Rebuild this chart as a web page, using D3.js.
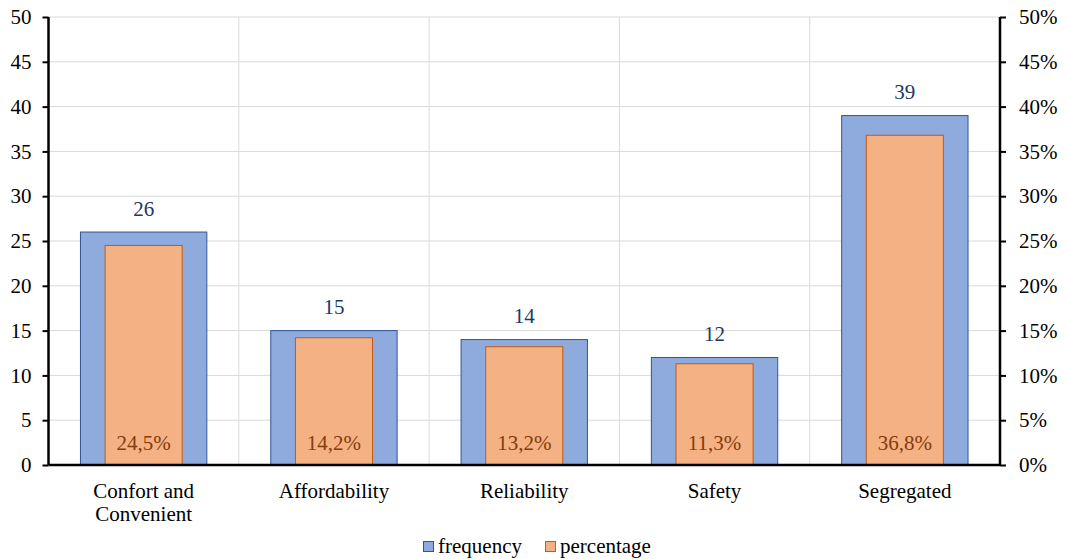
<!DOCTYPE html>
<html>
<head>
<meta charset="utf-8">
<script src="https://cdn.jsdelivr.net/npm/d3@7"></script>
<style>
  body { margin: 0; background: #fff; }
</style>
</head>
<body>
<svg id="chart" width="1067" height="559"></svg>
<script>
var categories = [["Confort and", "Convenient"], ["Affordability"], ["Reliability"], ["Safety"], ["Segregated"]];
var frequency = [26, 15, 14, 12, 39];
var percentage = [24.5, 14.2, 13.2, 11.3, 36.8];
var leftTicks = [0, 5, 10, 15, 20, 25, 30, 35, 40, 45, 50];
var rightTicks = [0, 5, 10, 15, 20, 25, 30, 35, 40, 45, 50];

var FONT = "'Liberation Serif'";
var margin = {top: 17, right: 67, bottom: 94, left: 48.5};
var width = 1067 - margin.left - margin.right;
var height = 559 - margin.top - margin.bottom;

var svg = d3.select("#chart");
var g = svg.append("g")
	.attr("transform", "translate(" + margin.left + "," + margin.top + ")");

var keys = d3.range(categories.length);
var x = d3.scaleBand().domain(keys).range([0, width]).padding(0);
var y = d3.scaleLinear().domain([0, 50]).range([height, 0]);
var yPct = d3.scaleLinear().domain([0, 50]).range([height, 0]);

// gridlines
g.append("g").selectAll("line")
	.data(leftTicks.slice(1))
	.join("line")
		.attr("x1", 0).attr("x2", width)
		.attr("y1", function(d){ return y(d); })
		.attr("y2", function(d){ return y(d); })
		.attr("stroke", "#d9d9d9").attr("stroke-width", 1);
g.append("g").selectAll("line")
	.data(keys.slice(1))
	.join("line")
		.attr("x1", function(d){ return x(d); })
		.attr("x2", function(d){ return x(d); })
		.attr("y1", 0).attr("y2", height)
		.attr("stroke", "#d9d9d9").attr("stroke-width", 1);

var bw = x.bandwidth();
var blueW = bw * 0.664;
var orangeW = bw * 0.405;

g.append("g").selectAll("rect")
	.data(keys)
	.join("rect")
		.attr("x", function(i){ return x(i) + (bw - blueW) / 2; })
		.attr("y", function(i){ return y(frequency[i]); })
		.attr("width", blueW)
		.attr("height", function(i){ return height - y(frequency[i]); })
		.attr("fill", "#8faadc")
		.attr("stroke", "#2f5597")
		.attr("stroke-width", 1);

g.append("g").selectAll("rect")
	.data(keys)
	.join("rect")
		.attr("x", function(i){ return x(i) + (bw - orangeW) / 2; })
		.attr("y", function(i){ return yPct(percentage[i]); })
		.attr("width", orangeW)
		.attr("height", function(i){ return height - yPct(percentage[i]); })
		.attr("fill", "#f4b183")
		.attr("stroke", "#c55a11")
		.attr("stroke-width", 1);

// value labels
g.append("g").selectAll("text")
	.data(keys)
	.join("text")
		.attr("x", function(i){ return x(i) + bw / 2; })
		.attr("y", function(i){ return y(frequency[i]) - 16.5; })
		.attr("text-anchor", "middle")
		.style("font-family", FONT)
		.style("font-size", "21px")
		.attr("fill", "#203864")
		.text(function(i){ return frequency[i]; });

g.append("g").selectAll("text")
	.data(keys)
	.join("text")
		.attr("x", function(i){ return x(i) + bw / 2; })
		.attr("y", height - 15.5)
		.attr("text-anchor", "middle")
		.style("font-family", FONT)
		.style("font-size", "21px")
		.attr("fill", "#843c0c")
		.text(function(i){ return percentage[i].toFixed(1).replace(".", ",") + "%"; });

// axes
var yAxis = d3.axisLeft(y).tickValues(leftTicks).tickSize(6).tickPadding(11);
var gy = g.append("g").call(yAxis);
var yAxisR = d3.axisRight(yPct).tickValues(rightTicks).tickSize(6).tickPadding(13)
	.tickFormat(function(d){ return d + "%"; });
var gyr = g.append("g").attr("transform", "translate(" + width + ",0)").call(yAxisR);
[gy, gyr].forEach(function(ax){
	ax.attr("font-family", null).attr("font-size", null);
	ax.select(".domain").attr("stroke", "#000").attr("stroke-width", 2.5)
		.attr("d", "M0,0V" + height);
	ax.selectAll(".tick line").attr("stroke", "#000").attr("stroke-width", 2);
	ax.selectAll(".tick text")
		.attr("fill", "#000")
		.style("font-family", FONT)
		.style("font-size", "21px");
});

g.append("line")
	.attr("x1", 0).attr("x2", width)
	.attr("y1", height).attr("y2", height)
	.attr("stroke", "#000").attr("stroke-width", 2.5);

// category labels
var cat = g.append("g").selectAll("text")
	.data(keys)
	.join("text")
		.attr("x", function(i){ return x(i) + bw / 2; })
		.attr("y", height + 33)
		.attr("text-anchor", "middle")
		.style("font-family", FONT)
		.style("font-size", "21px")
		.attr("fill", "#000");
cat.each(function(i){
	var t = d3.select(this);
	categories[i].forEach(function(line, k){
		t.append("tspan")
			.attr("x", x(i) + bw / 2)
			.attr("dy", k === 0 ? 0 : 23)
			.text(line);
	});
});

// legend
var legend = svg.append("g").attr("transform", "translate(423,541)");
var legendItems = [
	{name: "frequency", fill: "#8faadc", stroke: "#2f5597", x: 0},
	{name: "percentage", fill: "#f4b183", stroke: "#c55a11", x: 122}
];
legendItems.forEach(function(d){
	legend.append("rect")
		.attr("x", d.x + 0.5).attr("y", 0.5)
		.attr("width", 10).attr("height", 10)
		.attr("fill", d.fill).attr("stroke", d.stroke);
	legend.append("text")
		.attr("x", d.x + 15).attr("y", 12)
		.style("font-family", FONT)
		.style("font-size", "21px")
		.attr("fill", "#000")
		.text(d.name);
});
</script>
</body>
</html>
